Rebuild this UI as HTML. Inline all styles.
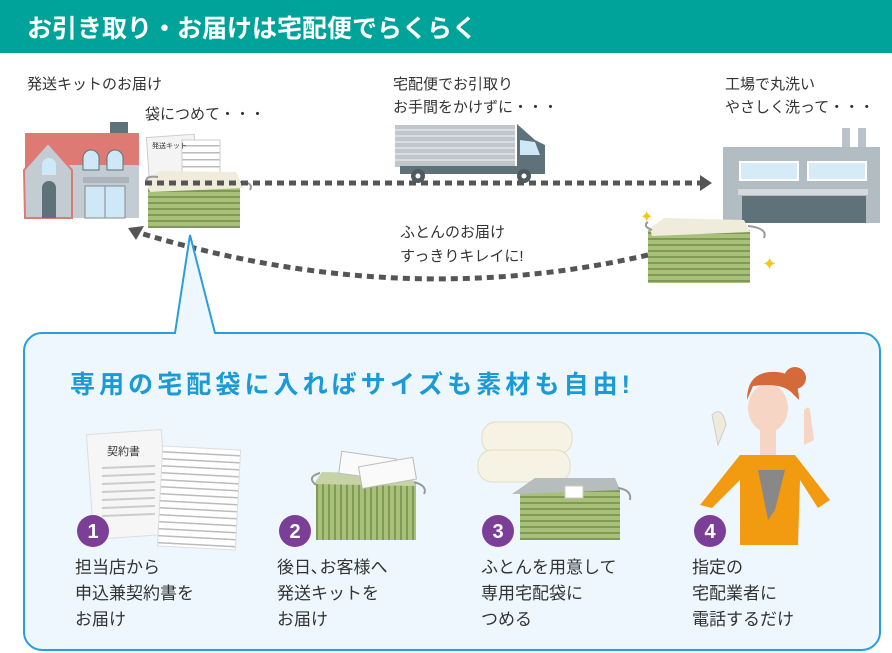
<!DOCTYPE html>
<html><head><meta charset="utf-8"><style>
html,body{margin:0;padding:0;background:#fff;}
svg{display:block;}
text{font-family:"Liberation Sans","Noto Sans CJK JP",sans-serif;}
</style></head><body>
<svg width="892" height="653" viewBox="0 0 892 653" xmlns="http://www.w3.org/2000/svg">
<defs>
<pattern id="stripe" width="6" height="6" patternUnits="userSpaceOnUse"><rect width="6" height="6" fill="#a9c07a"/><rect y="4" width="6" height="2" fill="#7f9a55"/></pattern>
<pattern id="vstripe" width="6" height="6" patternUnits="userSpaceOnUse"><rect width="6" height="6" fill="#a9c07a"/><rect x="4" width="2" height="6" fill="#7f9a55"/></pattern>
<pattern id="lines" width="6" height="7" patternUnits="userSpaceOnUse"><rect width="6" height="7" fill="#fff"/><rect y="5" width="6" height="1.5" fill="#bbb"/></pattern>
</defs>
<rect x="0" y="0" width="892" height="53" fill="#00a39a"/>
<text x="27" y="37" font-size="25" font-weight="bold" fill="#fff">お引き取り・お届けは宅配便でらくらく</text>

<g font-size="15" fill="#333">
<text x="27" y="89">発送キットのお届け</text>
<text x="145" y="119">袋につめて・・・</text>
<text x="393" y="89">宅配便でお引取り</text>
<text x="393" y="112">お手間をかけずに・・・</text>
<text x="725" y="89">工場で丸洗い</text>
<text x="725" y="112">やさしく洗って・・・</text>
<text x="400" y="237">ふとんのお届け</text>
<text x="400" y="261">すっきりキレイに!</text>
</g>

<rect x="110" y="122" width="18" height="14" fill="#5f7179"/>
<rect x="25" y="133" width="114" height="38" fill="#de7a74"/>
<rect x="68" y="165" width="71" height="53" fill="#c3ccd2"/>
<polygon points="24,170 48,143 72,170 72,218 25,218" fill="#c3ccd2" stroke="#de7a74" stroke-width="2"/>
<path d="M83,170 v-12 a8,8 0 0 1 16,0 v12z M107,170 v-12 a8,8 0 0 1 16,0 v12z" fill="#cfe8f7" stroke="#5f7179" stroke-width="1"/>
<path d="M42,175 v-10 a7,7 0 0 1 14,0 v10z" fill="#cfe8f7"/>
<path d="M42,218 v-30 a7,7 0 0 1 14,0 v30z" fill="#5f7179"/>
<rect x="83" y="177" width="46" height="6" fill="#aab4ba"/>
<rect x="85" y="186" width="40" height="32" fill="#cfe8f7" stroke="#888" stroke-width="1"/>
<line x1="105" y1="186" x2="105" y2="218" stroke="#888"/>

<rect x="148" y="136" width="48" height="50" fill="#f4f4f4" stroke="#ccc" transform="rotate(-4 170 160)"/>
<rect x="182" y="140" width="38" height="45" fill="url(#lines)" stroke="#ccc"/>
<text x="152" y="148" font-size="7" fill="#333">発送キット</text>
<rect x="148" y="188" width="92" height="40" fill="url(#stripe)"/>
<polygon points="146,180 160,171 236,172 244,188 150,192" fill="#f0ecdc"/>
<path d="M148,185 q-6,-10 10,-8" stroke="#999" fill="none" stroke-width="2"/>
<path d="M240,182 q14,0 10,8" stroke="#999" fill="none" stroke-width="2"/>

<rect x="395" y="125" width="120" height="42" fill="#c0c7cc"/>
<g stroke="#e3e6e8" stroke-width="1.5"><line x1="395" y1="130" x2="515" y2="130"/><line x1="395" y1="136" x2="515" y2="136"/><line x1="395" y1="142" x2="515" y2="142"/><line x1="395" y1="148" x2="515" y2="148"/><line x1="395" y1="154" x2="515" y2="154"/><line x1="395" y1="160" x2="515" y2="160"/></g>
<polygon points="517,124 535,140 545,145 545,172 517,172" fill="#5f7179"/>
<polygon points="520,140 535,142 540,155 520,155" fill="#cfe8f7"/>
<rect x="400" y="166" width="145" height="8" fill="#5f7179"/>
<circle cx="418" cy="176" r="7" fill="#4d5a60"/><circle cx="418" cy="176" r="2.5" fill="#fff"/>
<circle cx="524" cy="176" r="7" fill="#4d5a60"/><circle cx="524" cy="176" r="2.5" fill="#fff"/>

<rect x="842" y="128" width="8" height="20" fill="#b9c3c9"/><rect x="858" y="128" width="8" height="20" fill="#b9c3c9"/>
<rect x="723" y="147" width="157" height="76" fill="#b1bcc3"/>
<rect x="740" y="162" width="58" height="18" fill="#d6ebf8" stroke="#fff" stroke-width="2"/>
<rect x="808" y="162" width="58" height="18" fill="#d6ebf8" stroke="#fff" stroke-width="2"/>
<rect x="738" y="189" width="130" height="6" fill="#d3d9dd"/>
<rect x="742" y="196" width="124" height="27" fill="#5f7179"/>

<line x1="145" y1="183" x2="700" y2="183" stroke="#555" stroke-width="5" stroke-dasharray="7,5"/>
<polygon points="700,175 712,183 700,191" fill="#555"/>
<path d="M648,255 Q400,312 140,233" stroke="#555" stroke-width="5" fill="none" stroke-dasharray="7,5"/>
<polygon points="128,228 144,226 136,240" fill="#555"/>

<rect x="648" y="230" width="102" height="53" fill="url(#stripe)"/>
<polygon points="650,228 664,218 744,220 750,232 652,236" fill="#f0ecdc"/>
<path d="M652,230 q-10,-4 -4,-8" stroke="#999" fill="none" stroke-width="2"/>
<path d="M748,226 q20,2 16,12" stroke="#999" fill="none" stroke-width="2"/>
<text x="640" y="222" font-size="16" fill="#f5c518">✦</text>
<text x="762" y="270" font-size="18" fill="#f5c518">✦</text>

<path d="M42,333 H175 L190,235 L215,333 H862 a18,18 0 0 1 18,18 V632 a18,18 0 0 1 -18,18 H42 a18,18 0 0 1 -18,-18 V351 a18,18 0 0 1 18,-18z" fill="#eef7fd" stroke="#2a9de0" stroke-width="2"/>
<text x="70" y="393" font-size="25" font-weight="bold" fill="#1a9ad6" textLength="560">専用の宅配袋に入ればサイズも素材も自由!</text>

<rect x="90" y="432" width="75" height="105" fill="#f6f6f6" stroke="#ddd" transform="rotate(-4 127 484)"/>
<rect x="160" y="448" width="78" height="100" fill="url(#lines)" stroke="#ddd" transform="rotate(3 199 498)"/>
<text x="107" y="455" font-size="11" fill="#333">契約書</text>
<g stroke="#ccc" stroke-width="2"><line x1="102" y1="468" x2="155" y2="466"/><line x1="102" y1="476" x2="155" y2="474"/><line x1="102" y1="484" x2="155" y2="482"/><line x1="102" y1="492" x2="155" y2="490"/><line x1="102" y1="500" x2="155" y2="498"/><line x1="102" y1="508" x2="155" y2="506"/><line x1="102" y1="516" x2="155" y2="514"/></g>

<rect x="316" y="482" width="100" height="58" fill="url(#vstripe)"/>
<polygon points="314,484 322,472 410,474 416,486" fill="#c6d3a6"/>
<path d="M316,485 q-10,-8 4,-12" stroke="#999" fill="none" stroke-width="2"/>
<path d="M414,482 q14,4 10,12" stroke="#999" fill="none" stroke-width="2"/>
<rect x="340" y="455" width="55" height="22" fill="#fafafa" stroke="#bbb" transform="rotate(8 367 466)"/>
<rect x="360" y="462" width="55" height="22" fill="#fafafa" stroke="#bbb" transform="rotate(-10 387 473)"/>

<rect x="482" y="422" width="90" height="32" rx="14" fill="#f6f3e4" stroke="#e3dcc2"/>
<rect x="478" y="450" width="92" height="32" rx="14" fill="#f6f3e4" stroke="#e3dcc2"/>
<rect x="520" y="490" width="100" height="50" fill="url(#stripe)"/>
<polygon points="512,494 535,478 615,478 620,490 520,494" fill="#b7bcbc"/>
<rect x="565" y="486" width="18" height="12" fill="#fff" stroke="#ccc"/>
<path d="M618,488 q14,2 12,12" stroke="#999" fill="none" stroke-width="2"/>

<circle cx="795" cy="378" r="11" fill="#d46a3a"/>
<ellipse cx="768" cy="408" rx="20" ry="24" fill="#f7d5c4"/>
<path d="M747,400 q0,-30 30,-28 q22,2 22,28 l-6,-6 q-10,-12 -40,-8z" fill="#d46a3a"/>
<rect x="760" y="425" width="16" height="30" fill="#f7d5c4"/>
<path d="M700,505 L740,455 L795,455 L830,500 L818,508 L800,480 L798,545 L740,545 L740,480 L712,508z" fill="#f29a10"/>
<polygon points="758,470 785,470 775,510 768,520" fill="#888"/>
<path d="M718,445 l-6,-30 q10,-10 14,10 z" fill="#f0ead8" stroke="#ccc"/>
<path d="M804,445 l0,-35 q5,-5 6,0 l4,30z" fill="#f7d5c4"/>

<g font-size="20" font-weight="bold" fill="#fff" text-anchor="middle">
<circle cx="93" cy="531" r="16" fill="#7b3f98"/><text x="93" y="538">1</text>
<circle cx="295" cy="531" r="16" fill="#7b3f98"/><text x="295" y="538">2</text>
<circle cx="498" cy="531" r="16" fill="#7b3f98"/><text x="498" y="538">3</text>
<circle cx="710" cy="531" r="16" fill="#7b3f98"/><text x="710" y="538">4</text>
</g>
<g font-size="17" fill="#333">
<text x="75" y="573">担当店から</text><text x="75" y="599">申込兼契約書を</text><text x="75" y="625">お届け</text>
<text x="277" y="573">後日､お客様へ</text><text x="277" y="599">発送キットを</text><text x="277" y="625">お届け</text>
<text x="481" y="573">ふとんを用意して</text><text x="481" y="599">専用宅配袋に</text><text x="481" y="625">つめる</text>
<text x="692" y="573">指定の</text><text x="692" y="599">宅配業者に</text><text x="692" y="625">電話するだけ</text>
</g>
</svg>
</body></html>
